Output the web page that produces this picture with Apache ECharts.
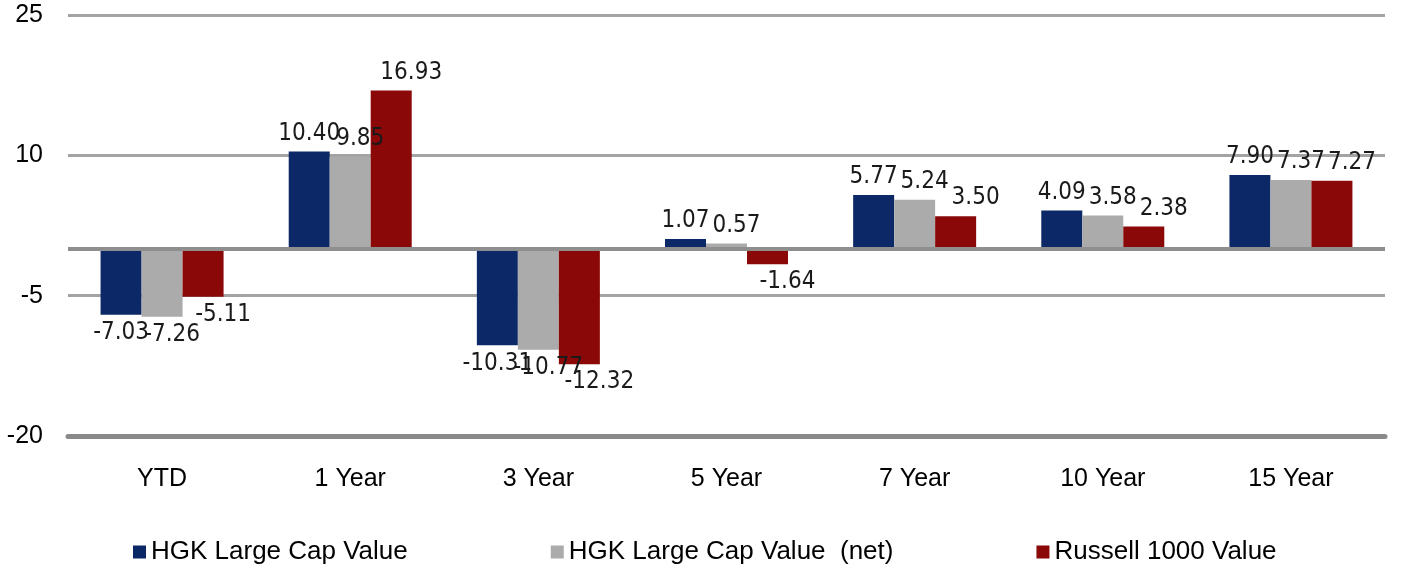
<!DOCTYPE html>
<html>
<head>
<meta charset="utf-8">
<title>HGK Large Cap Value returns</title>
<script src="https://cdn.jsdelivr.net/npm/echarts@6/dist/echarts.min.js"></script>
<style>
  html, body { margin: 0; padding: 0; background: #fff; }
  #chart { width: 1401px; height: 566px; }
</style>
</head>
<body>
<div id="chart"></div>
<script>
// periods on the x axis
const categories = ['YTD', '1 Year', '3 Year', '5 Year', '7 Year', '10 Year', '15 Year']
// annualised returns (%)
const hgkValue = [-7.03, 10.40, -10.31, 1.07, 5.77, 4.09, 7.90]
const hgkValueNet = [-7.26, 9.85, -10.77, 0.57, 5.24, 3.58, 7.37]
const russellValue = [-5.11, 16.93, -12.32, -1.64, 3.50, 2.38, 7.27]
const seriesNames = ['HGK Large Cap Value', 'HGK Large Cap Value  (net)', 'Russell 1000 Value']
// y axis range
const yMin = -20
const yMax = 25
const yStep = 15

const colors = ['#0c2866', '#ababab', '#8a0808']
const labelShift = [0, 10, 20]

const chart = echarts.init(document.getElementById('chart'))

const makeSeries = (name, data, i) => ({
  name: name,
  type: 'bar',
  data: data,
  barWidth: 41,
  barGap: '0%',
  itemStyle: { color: colors[i] },
  label: {
    show: true,
    position: 'outside',
    distance: 6,
    offset: [labelShift[i], 0],
    fontFamily: "'DejaVu Sans Condensed', 'Liberation Sans Narrow', sans-serif",
    fontSize: 24,
    color: '#1a1a1a',
    formatter: (p) => p.value.toFixed(2),
  },
})

const series = [
  makeSeries(seriesNames[0], hgkValue, 0),
  makeSeries(seriesNames[1], hgkValueNet, 1),
  makeSeries(seriesNames[2], russellValue, 2),
]
// zero line
series[0].markLine = {
  silent: true,
  symbol: 'none',
  label: { show: false },
  lineStyle: { color: '#8e8e8e', width: 4, type: 'solid' },
  data: [{ yAxis: 0 }],
}

const option = {
  animation: false,
  backgroundColor: '#fff',
  grid: {
    left: 68,
    right: 16,
    top: 15,
    bottom: 130,
  },
  legend: {
    data: seriesNames,
    left: 128,
    top: 534,
    itemWidth: 13,
    itemHeight: 13,
    itemGap: 143,
    icon: 'rect',
    textStyle: {
      fontFamily: 'Liberation Sans',
      fontSize: 26,
      color: '#000',
    },
  },
  xAxis: {
    type: 'category',
    data: categories,
    axisLine: {
      onZero: false,
      lineStyle: { color: '#8a8a8a', width: 5 },
    },
    axisTick: { show: false },
    axisLabel: {
      margin: 31,
      fontFamily: 'Liberation Sans',
      fontSize: 25,
      color: '#000',
    },
  },
  yAxis: {
    type: 'value',
    min: yMin,
    max: yMax,
    interval: yStep,
    axisLine: { show: false },
    axisTick: { show: false },
    axisLabel: {
      margin: 25,
      fontFamily: 'Liberation Sans',
      fontSize: 25,
      color: '#000',
    },
    splitLine: {
      lineStyle: { color: '#a3a3a3', width: 3 },
    },
  },
  series: series,
}

chart.setOption(option)
</script>
</body>
</html>
